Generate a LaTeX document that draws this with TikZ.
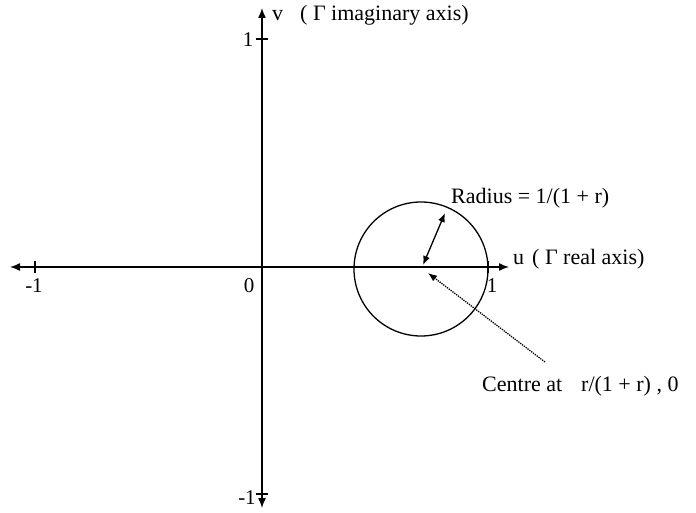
\documentclass[tikz,border=0pt]{standalone}
\usepackage{fontspec}
\setmainfont{Liberation Serif}
\usetikzlibrary{arrows.meta}
\begin{document}
\begin{tikzpicture}[x=1pt,y=-1pt,
  axisline/.style={line width=1.4pt,{Latex[length=10pt,width=8pt]}-{Latex[length=10pt,width=8pt]}},
  tickmark/.style={line width=1.2pt},
  lbl/.style={inner sep=0pt,anchor=base west,font=\fontsize{22}{26}\selectfont},
  ticklbl/.style={inner sep=0pt,anchor=base,font=\fontsize{21}{24}\selectfont},
  radarrow/.style={line width=1.3pt,{Latex[length=9pt,width=7pt]}-{Latex[length=9pt,width=7pt]}},
  ptrarrow/.style={line width=1.3pt,densely dotted,-{Latex[length=9pt,width=7pt]}}]
\useasboundingbox (0,0) rectangle (696,513);
\fill[white] (0,0) rectangle (696,513);
% axes
\coordinate (L) at (10,267);
\coordinate (R) at (509,267);
\coordinate (T) at (262,8);
\coordinate (B) at (262,508);
\draw[axisline] (L) -- (R);
\draw[axisline] (B) -- (T);
% ticks
\coordinate (tl) at (35,267);
\coordinate (tr) at (488,267);
\coordinate (tt) at (262,39);
\coordinate (tb) at (262,494);
\draw[tickmark] ([yshift=-6]tl) -- ([yshift=6]tl);
\draw[tickmark] ([yshift=-6]tr) -- ([yshift=6]tr);
\draw[tickmark] ([xshift=-6]tt) -- ([xshift=6]tt);
\draw[tickmark] ([xshift=-6]tb) -- ([xshift=6]tb);
% tick labels
\node[ticklbl] (m1x) at (34,292) {-1};
\node[ticklbl] (zero) at (249,292) {0};
\node[ticklbl] (p1x) at (492,292) {1};
\node[ticklbl] (p1y) at (248,47) {1};
\node[ticklbl] (m1y) at (247,504) {-1};
% circle
\coordinate (C) at (421,269);
\draw[line width=1.3pt] (C) circle [radius=67];
% radius arrow
\coordinate (ra) at (423,265);
\coordinate (rb) at (445,213);
\draw[radarrow] (ra) -- (rb);
% dotted pointer
\coordinate (pt) at (545,362);
\coordinate (ph) at (428,273);
\draw[ptrarrow] (pt) -- (ph);
% labels
\node[lbl] (vlab) at (272,21) {v\hspace{17pt}( Γ imaginary axis)};
\node[lbl] (rad) at (451,204) {Radius = 1/(1 + r)};
\node[lbl] (ulab) at (513,264) {u\hspace{8pt}( Γ real axis)};
\node[lbl] (cen) at (482,391) {Centre at\hspace{19pt}r/(1 + r) , 0};
\end{tikzpicture}
\end{document}
